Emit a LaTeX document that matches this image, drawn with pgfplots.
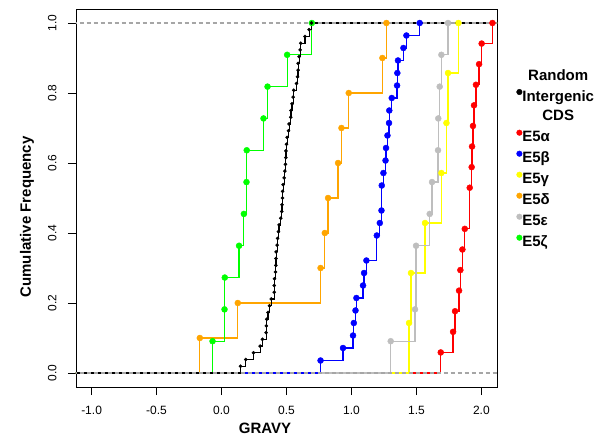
\documentclass[border=0pt]{standalone}
\usepackage{fontspec}
\setmainfont{Liberation Sans}
\usepackage{calc}
\usepackage{pgfplots}
\usepackage{pgfplotstable}
\pgfplotsset{compat=1.18}

\definecolor{rorange}{HTML}{FFA500}
\definecolor{rgray}{HTML}{BEBEBE}
\definecolor{rgreen}{HTML}{00FF00}
\definecolor{ryellow}{HTML}{FFFF00}
\definecolor{dashgray}{HTML}{A6A6A6}

% ECDF steps: x, cumulative frequency (first/last rows extend the steps to the frame)
\pgfplotstableread{
x F
-1.2 0
0.146 0.0192
0.187 0.0385
0.246 0.0577
0.297 0.0769
0.315 0.0962
0.343 0.1154
0.345 0.1346
0.348 0.1538
0.358 0.1731
0.369 0.1923
0.383 0.2115
0.405 0.2308
0.406 0.2500
0.408 0.2692
0.415 0.2885
0.418 0.3077
0.419 0.3269
0.420 0.3462
0.428 0.3654
0.431 0.3846
0.438 0.4038
0.443 0.4231
0.456 0.4423
0.464 0.4615
0.466 0.4808
0.469 0.5000
0.470 0.5192
0.474 0.5385
0.482 0.5577
0.487 0.5769
0.492 0.5962
0.495 0.6154
0.496 0.6346
0.500 0.6538
0.505 0.6731
0.515 0.6923
0.520 0.7115
0.533 0.7308
0.534 0.7500
0.543 0.7692
0.551 0.7885
0.556 0.8077
0.577 0.8269
0.585 0.8462
0.589 0.8654
0.590 0.8846
0.597 0.9038
0.605 0.9231
0.610 0.9423
0.643 0.9615
0.674 0.9808
0.692 1
2.2 1
}\intergenic

\pgfplotstableread{
x F
-1.2 0
1.687 0.0588
1.782 0.1176
1.797 0.1765
1.828 0.2353
1.838 0.2941
1.854 0.3529
1.872 0.4118
1.910 0.5294
1.925 0.5882
1.928 0.6471
1.935 0.7059
1.943 0.7647
1.958 0.8235
1.982 0.8824
2.002 0.9412
2.085 1
2.2 1
}\alpha

\pgfplotstableread{
x F
-1.2 0
0.762 0.0357
0.935 0.0714
1.012 0.1071
1.018 0.1429
1.031 0.1786
1.038 0.2143
1.089 0.2500
1.097 0.2857
1.115 0.3214
1.195 0.3929
1.218 0.4286
1.231 0.4643
1.233 0.5357
1.246 0.5714
1.262 0.6071
1.266 0.6429
1.277 0.6786
1.289 0.7143
1.291 0.7500
1.310 0.7857
1.351 0.8214
1.353 0.8571
1.358 0.8929
1.400 0.9286
1.423 0.9643
1.525 1
2.2 1
}\beta

\pgfplotstableread{
x F
-1.2 0
1.443 0.1429
1.458 0.2857
1.566 0.4286
1.692 0.5714
1.731 0.7143
1.743 0.8571
1.823 1
2.2 1
}\gamma

\pgfplotstableread{
x F
-1.2 0
-0.167 0.1
0.125 0.2
0.762 0.3
0.795 0.4
0.820 0.5
0.897 0.6
0.923 0.7
0.979 0.8
1.238 0.9
1.269 1
2.2 1
}\delta

\pgfplotstableread{
x F
-1.2 0
1.302 0.0909
1.489 0.1818
1.497 0.3636
1.602 0.4545
1.620 0.5455
1.666 0.6364
1.668 0.7273
1.679 0.8182
1.692 0.9091
1.743 1
2.2 1
}\epsilon

\pgfplotstableread{
x F
-1.2 0
-0.069 0.0909
0.023 0.1818
0.025 0.2727
0.135 0.3636
0.172 0.4545
0.192 0.5455
0.194 0.6364
0.323 0.7273
0.354 0.8182
0.505 0.9091
0.695 1
2.2 1
}\zeta

\begin{document}
\begin{tikzpicture}
\path[use as bounding box] (-76pt,-58pt) rectangle (525pt,387pt);
\begin{axis}[
    scale only axis,
    width=421pt,
    height=378pt,
    xmin=-1.12, xmax=2.12,
    ymin=-0.04, ymax=1.04,
    axis line style={line width=0.8pt},
    xtick={-1,-0.5,0,0.5,1,1.5,2},
    xticklabels={-1.0,-0.5,0.0,0.5,1.0,1.5,2.0},
    ytick={0,0.2,0.4,0.6,0.8,1},
    yticklabels={0.0,0.2,0.4,0.6,0.8,1.0},
    tick align=outside,
    major tick length=8pt,
    xtick pos=bottom, ytick pos=left,
    tick style={black, line width=0.8pt},
    ticklabel style={font=\fontsize{12}{14}\selectfont},
    xticklabel style={anchor=base, yshift=-19pt},
    yticklabel style={xshift=-11.5pt, rotate=90, anchor=base},
    xlabel={GRAVY},
    ylabel={Cumulative Frequency},
    every axis x label/.style={at={(rel axis cs:0.449,0)}, yshift=-41pt, anchor=center,
        font=\bfseries\fontsize{15}{18}\selectfont},
    every axis y label/.style={at={(rel axis cs:0,0.45)}, xshift=-49pt, rotate=90, anchor=center,
        font=\bfseries\fontsize{15}{18}\selectfont},
    legend style={draw=none, fill=none, at={(1.0456,0.841)}, anchor=north west,
        inner sep=0pt, row sep=5.9pt,
        font=\bfseries\fontsize{15}{18}\selectfont,
        nodes={inner sep=0pt, text height=10.8pt, text depth=3pt},
        /tikz/every even column/.append style={column sep=3.2pt}},
    legend cell align=left,
    legend image code/.code={\fill[#1] (0pt,5.2pt) circle (2.8pt);},
    step/.style={const plot, line width=1.2pt, forget plot},
    dots/.style={only marks, mark=*, mark size=3pt, restrict x to domain=-1.15:2.15, forget plot},
]
\addplot[step, red] table {\alpha};
\addplot[step, ryellow] table {\gamma};
\addplot[step, rgray] table {\epsilon};
\addplot[step, blue] table {\beta};
\addplot[step, rorange] table {\delta};
\addplot[step, rgreen] table {\zeta};
\addplot[step, black] table {\intergenic};

\addplot[dashgray, line width=1.3pt, dash pattern=on 4pt off 3pt, forget plot] coordinates {(-1.2,0) (2.2,0)};
\addplot[dashgray, line width=1.3pt, dash pattern=on 4pt off 3pt, forget plot] coordinates {(-1.2,1) (2.2,1)};

\addplot[dots, red] table {\alpha};
\addplot[dots, ryellow] table {\gamma};
\addplot[dots, rgray] table {\epsilon};
\addplot[dots, blue] table {\beta};
\addplot[dots, rorange] table {\delta};
\addplot[dots, rgreen] table {\zeta};
\addplot[dots, black, mark size=1.6pt] table {\intergenic};

\addlegendimage{empty legend}
\addlegendentry{\makebox[\widthof{Intergenic}][c]{Random}}
\addlegendimage{black}
\addlegendentry{Intergenic}
\addlegendimage{empty legend}
\addlegendentry{\makebox[\widthof{Intergenic}][c]{CDS}}
\addlegendimage{red}
\addlegendentry{E5α}
\addlegendimage{blue}
\addlegendentry{E5β}
\addlegendimage{ryellow}
\addlegendentry{E5γ}
\addlegendimage{rorange}
\addlegendentry{E5δ}
\addlegendimage{rgray}
\addlegendentry{E5ε}
\addlegendimage{rgreen}
\addlegendentry{E5ζ}
\end{axis}
\end{tikzpicture}
\end{document}
